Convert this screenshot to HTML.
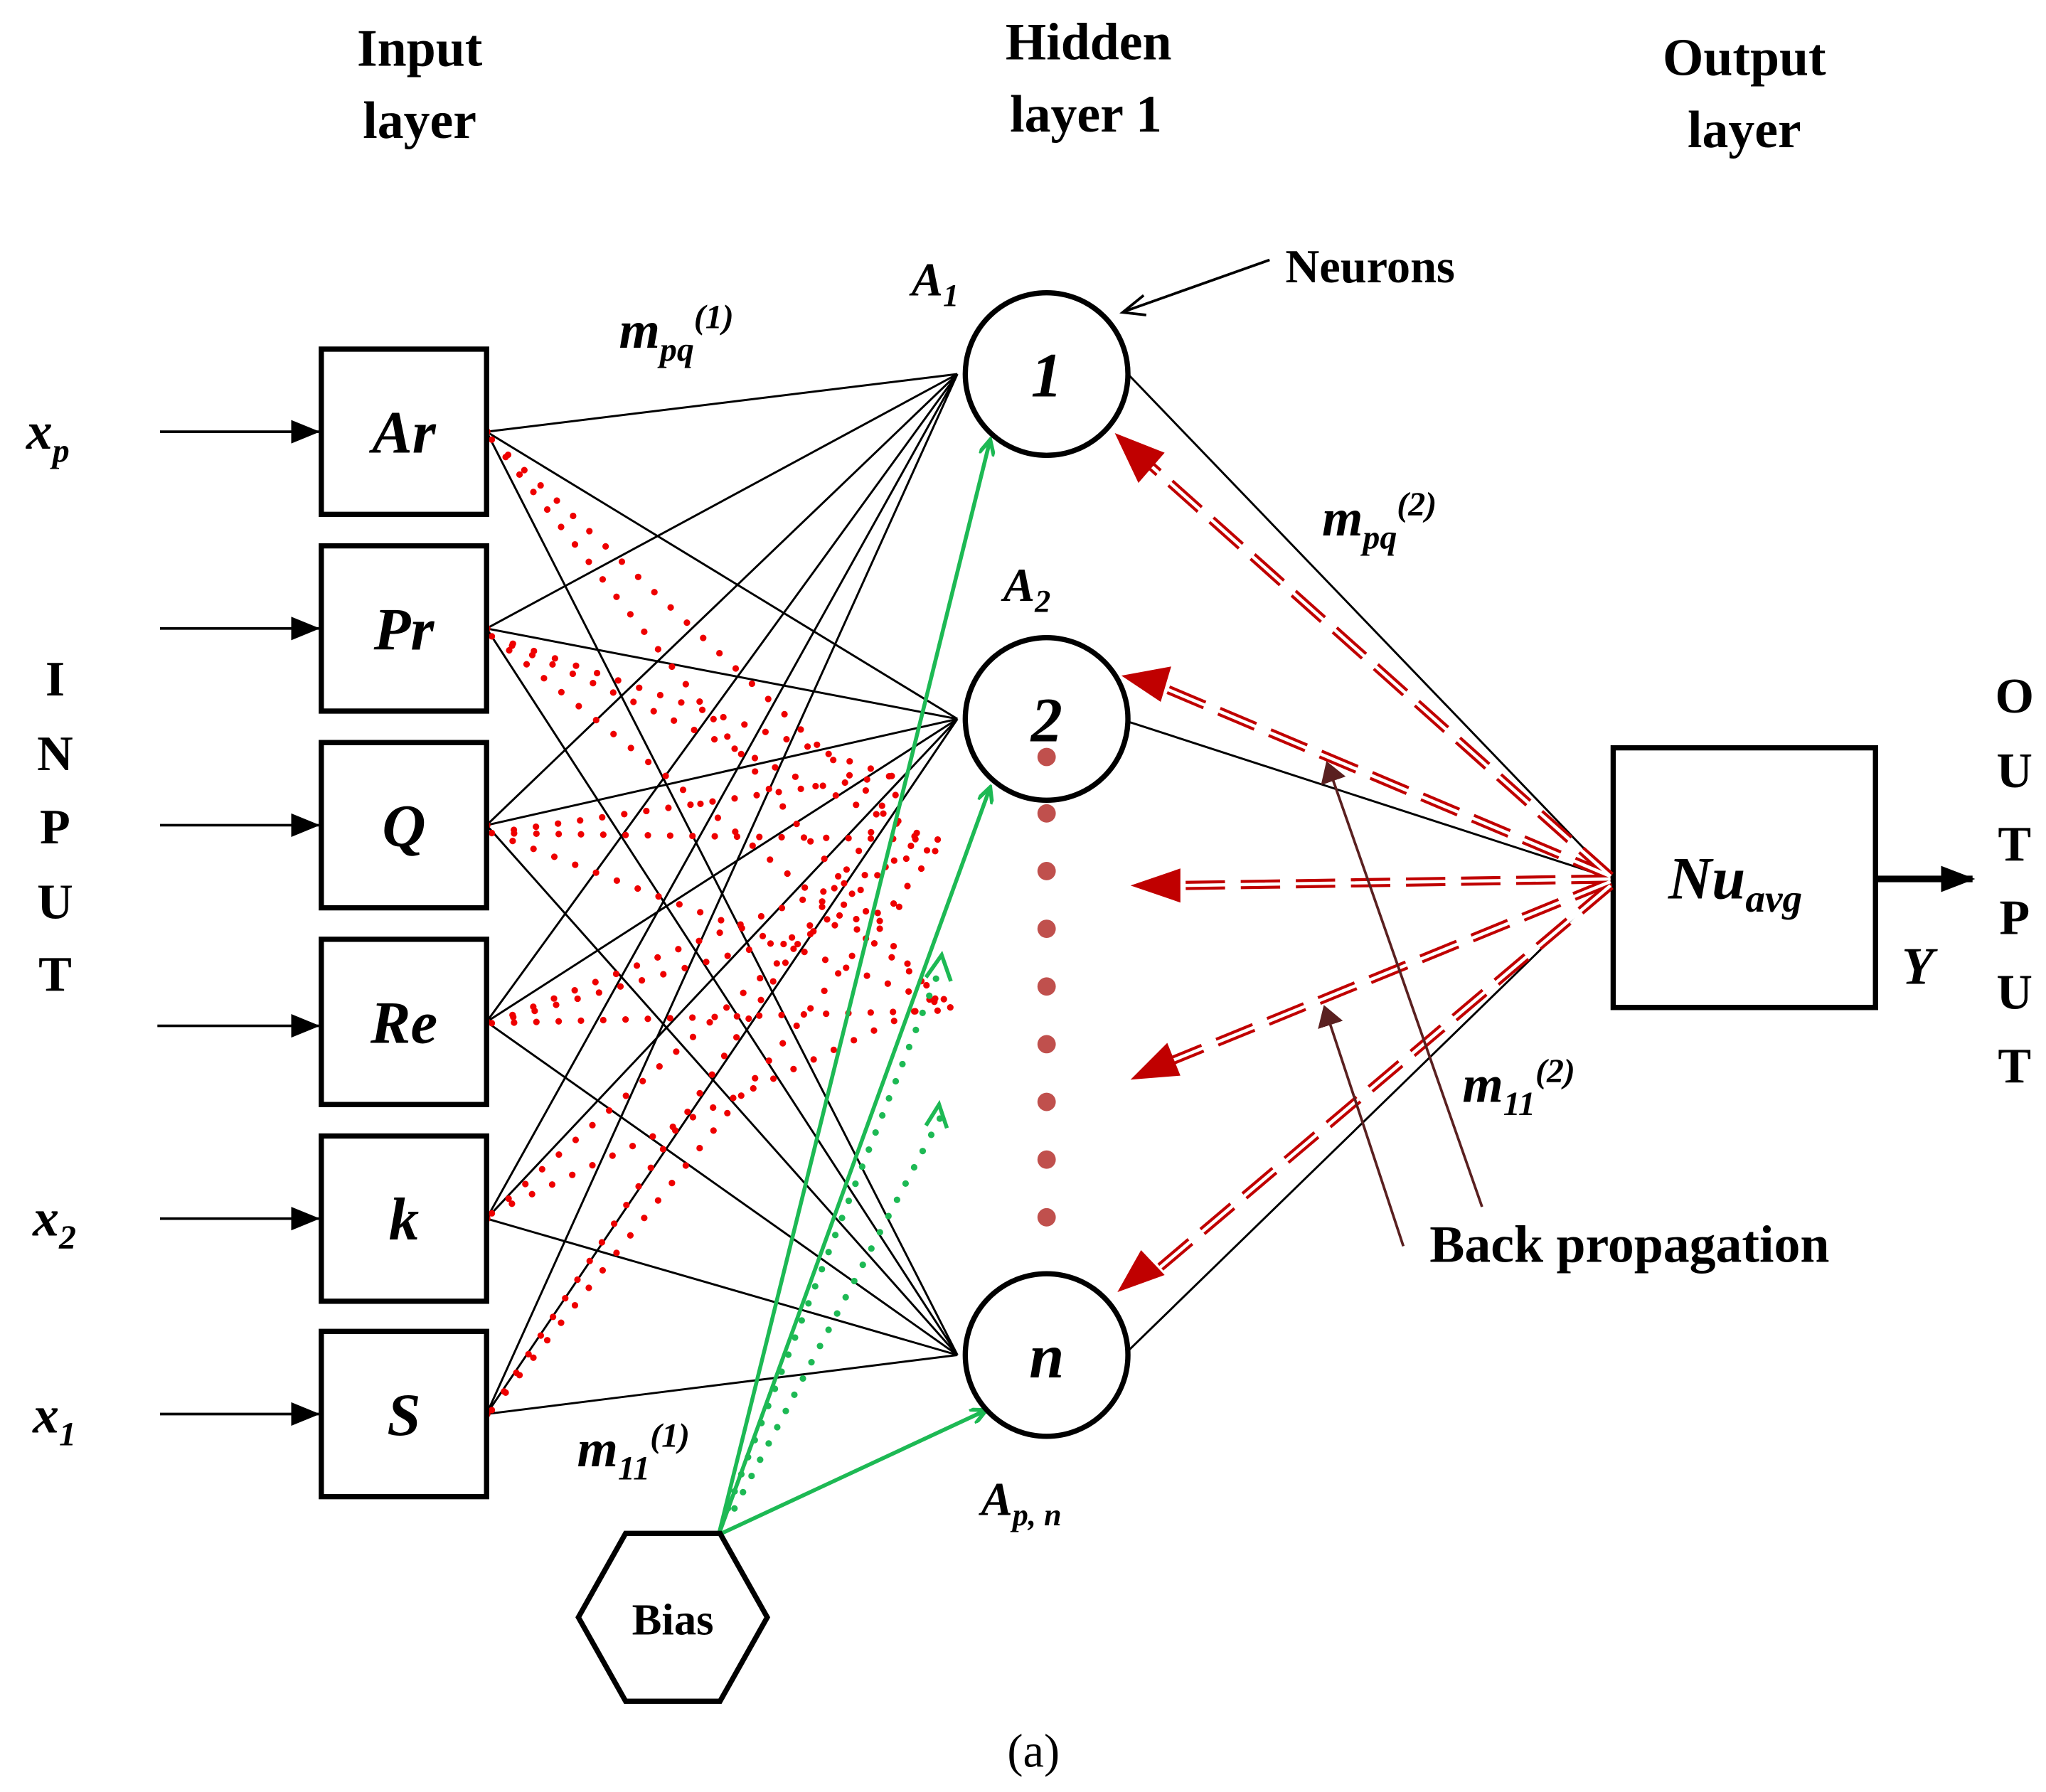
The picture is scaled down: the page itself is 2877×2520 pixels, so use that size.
<!DOCTYPE html>
<html><head><meta charset="utf-8"><style>html,body{margin:0;padding:0;background:#fff}svg{display:block}</style></head><body>
<svg width="2877" height="2520" viewBox="0 0 1560 1366" xmlns="http://www.w3.org/2000/svg" font-family="Liberation Serif, serif">
<defs>
<marker id="ab" markerWidth="22" markerHeight="18" refX="21" refY="9" orient="auto" markerUnits="userSpaceOnUse"><path d="M0,0 L22,9 L0,18z" fill="#000"/></marker>
<marker id="ab2" markerWidth="26" markerHeight="20" refX="24" refY="10" orient="auto" markerUnits="userSpaceOnUse"><path d="M0,0 L26,10 L0,20z" fill="#000"/></marker>
<marker id="ag" markerWidth="14" markerHeight="12" refX="12" refY="6" orient="auto" markerUnits="userSpaceOnUse"><path d="M0,0 L12,6 L0,12" fill="none" stroke="#1db954" stroke-width="3"/></marker>
<marker id="abr" markerWidth="16" markerHeight="20" refX="14" refY="10" orient="auto" markerUnits="userSpaceOnUse"><path d="M0,0 L16,10 L0,20z" fill="#5a2020"/></marker>
</defs>
<g font-weight="bold" font-size="40" text-anchor="middle">
<text x="320" y="50">Input</text><text x="320" y="105">layer</text>
<text x="830" y="45">Hidden</text><text x="828" y="100">layer 1</text>
<text x="1330" y="57">Output</text><text x="1330" y="112">layer</text>
<g font-size="38"><text x="42" y="530">I</text><text x="42" y="587">N</text><text x="42" y="643">P</text><text x="42" y="700">U</text><text x="42" y="755">T</text>
<text x="1536" y="543">O</text><text x="1536" y="600">U</text><text x="1536" y="656">T</text><text x="1536" y="712">P</text><text x="1536" y="769">U</text><text x="1536" y="825">T</text></g>
</g>
<g stroke="#000" stroke-width="1.6" fill="none">
<path d="M371,329L730,285M371,329L730,548M371,329L730,1033
M371,479L730,285M371,479L730,548M371,479L730,1033
M371,629L730,285M371,629L730,548M371,629L730,1033
M371,779L730,285M371,779L730,548M371,779L730,1033
M371,929L730,285M371,929L730,548M371,929L730,1033
M371,1078L730,285M371,1078L730,548M371,1078L730,1033
M860,285L1230,670M860,550L1230,670M860,1030L1230,670"/>
</g>
<g stroke="#e00" stroke-width="5" stroke-linecap="round" stroke-dasharray="0 17" fill="none">
<path d="M375,335L700,640M375,335L720,770M375,485L710,640M375,485L730,770M375,485L690,595
M375,635L720,640M375,635L730,770M375,635L690,590M375,780L715,645M375,780L730,770M375,780L690,690
M375,925L700,640M375,925L720,760M375,1075L690,595M375,1075L720,640"/>
</g>
<g fill="#e00"><circle cx="371" cy="329" r="3"/><circle cx="371" cy="479" r="3"/><circle cx="371" cy="629" r="3"/><circle cx="371" cy="779" r="3"/><circle cx="371" cy="929" r="3"/><circle cx="371" cy="1078" r="3"/></g>
<g stroke="#000" stroke-width="4" fill="#fff">
<rect x="245" y="266" width="126" height="126"/><rect x="245" y="416" width="126" height="126"/><rect x="245" y="566" width="126" height="126"/>
<rect x="245" y="716" width="126" height="126"/><rect x="245" y="866" width="126" height="126"/><rect x="245" y="1015" width="126" height="126"/>
<rect x="1230" y="570" width="200" height="198"/>
</g>
<g font-weight="bold" font-style="italic" font-size="46" text-anchor="middle">
<text x="308" y="345">Ar</text><text x="308" y="495">Pr</text><text x="308" y="645">Q</text><text x="308" y="795">Re</text><text x="308" y="945">k</text><text x="308" y="1094">S</text>
</g>
<g stroke="#000" stroke-width="2" marker-end="url(#ab)">
<line x1="122" y1="329" x2="243" y2="329"/><line x1="122" y1="479" x2="243" y2="479"/><line x1="122" y1="629" x2="243" y2="629"/>
<line x1="120" y1="782" x2="243" y2="782"/><line x1="122" y1="929" x2="243" y2="929"/><line x1="122" y1="1078" x2="243" y2="1078"/>
</g>
<line x1="1430" y1="670" x2="1504" y2="670" stroke="#000" stroke-width="5" marker-end="url(#ab2)"/>
<g font-style="italic" font-weight="bold" font-size="40">
<text x="20" y="342">x<tspan font-size="26" dy="10">p</tspan></text>
<text x="25" y="942">x<tspan font-size="26" dy="10">2</tspan></text>
<text x="25" y="1092">x<tspan font-size="26" dy="10">1</tspan></text>
<text x="472" y="265">m<tspan font-size="26" dy="10">pq</tspan><tspan font-size="26" dy="-25">(1)</tspan></text>
<text x="440" y="1118">m<tspan font-size="26" dy="10">11</tspan><tspan font-size="26" dy="-25">(1)</tspan></text>
<text x="1008" y="408">m<tspan font-size="26" dy="10">pq</tspan><tspan font-size="26" dy="-25">(2)</tspan></text>
<text x="1115" y="840">m<tspan font-size="26" dy="10">11</tspan><tspan font-size="26" dy="-25">(2)</tspan></text>
<text x="695" y="225" font-size="36">A<tspan font-size="24" dy="8">1</tspan></text>
<text x="765" y="458" font-size="36">A<tspan font-size="24" dy="8">2</tspan></text>
<text x="748" y="1155" font-size="36">A<tspan font-size="24" dy="8">p, n</tspan></text>
<text x="1450" y="750">Y</text>
<text x="1272" y="685" font-size="46">Nu<tspan font-size="30" dy="10">avg</tspan></text>
</g>
<g stroke="#1db954" stroke-width="3" fill="none">
<line x1="548" y1="1170" x2="755" y2="335" marker-end="url(#ag)"/>
<line x1="548" y1="1170" x2="755" y2="600" marker-end="url(#ag)"/>
<line x1="548" y1="1170" x2="752" y2="1075" marker-end="url(#ag)"/>
<g stroke-width="5" stroke-dasharray="0 14" stroke-linecap="round"><line x1="555" y1="1150" x2="718" y2="735"/><line x1="560" y1="1150" x2="718" y2="850"/></g>
<path d="M706,745L718,728L725,748M706,858L716,842L722,860"/>
</g>
<polygon points="441,1233 477,1169 549,1169 585,1233 549,1297 477,1297" fill="#fff" stroke="#000" stroke-width="4"/>
<text x="513" y="1246" font-weight="bold" font-size="34" text-anchor="middle">Bias</text>
<g stroke="#000" stroke-width="4" fill="#fff"><circle cx="798" cy="285" r="62"/><circle cx="798" cy="548" r="62"/><circle cx="798" cy="1033" r="62"/></g>
<g font-weight="bold" font-style="italic" font-size="48" text-anchor="middle"><text x="798" y="302">1</text><text x="798" y="565">2</text><text x="798" y="1050">n</text></g>
<g fill="#c0504d"><circle cx="798" cy="577" r="7"/><circle cx="798" cy="620" r="7"/><circle cx="798" cy="664" r="7"/><circle cx="798" cy="708" r="7"/><circle cx="798" cy="752" r="7"/><circle cx="798" cy="796" r="7"/><circle cx="798" cy="840" r="7"/><circle cx="798" cy="884" r="7"/><circle cx="798" cy="928" r="7"/></g>
<g fill="none">
<g stroke="#c00000" stroke-width="7" stroke-dasharray="30 12">
<path d="M1228,668L872,350M1228,668L882,522M1228,670L900,675M1228,672L895,808M1228,675L880,970"/>
</g>
<g stroke="#fff" stroke-width="2.5"><path d="M1228,668L872,350M1228,668L882,522M1228,670L900,675M1228,672L895,808M1228,675L880,970"/></g>
</g>
<g fill="#c00000">
<path d="M850,330L888,345L868,368z"/><path d="M855,515L893,508L885,535z"/><path d="M862,675L900,662L900,688z"/><path d="M862,823L890,795L900,820z"/><path d="M852,985L870,953L888,972z"/>
</g>
<g stroke="#5a2020" stroke-width="2" marker-end="url(#abr)"><line x1="1130" y1="920" x2="1012" y2="582"/><line x1="1070" y1="950" x2="1010" y2="768"/></g>
<text x="1090" y="962" font-weight="bold" font-size="40">Back propagation</text>
<text x="980" y="215" font-weight="bold" font-size="36">Neurons</text>
<line x1="968" y1="198" x2="858" y2="237" stroke="#000" stroke-width="2"/>
<path d="M872,225L856,238L874,240" fill="none" stroke="#000" stroke-width="2"/>
<text x="788" y="1347" font-size="36" text-anchor="middle">(a)</text>
</svg>
</body></html>
